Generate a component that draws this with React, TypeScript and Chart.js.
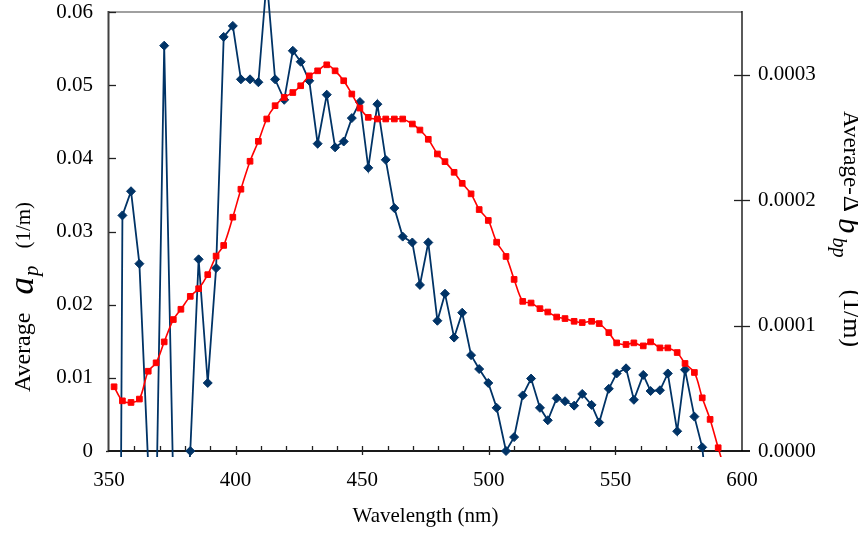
import React, { useEffect, useRef } from 'react';
import { Chart, registerables } from 'chart.js';

Chart.register(...registerables);

// Wavelength (nm) of each sample
const wavelengths = [
  352.0, 355.3, 358.7, 362.0, 365.5, 368.6, 371.8, 375.4, 378.4, 382.1,
  385.4, 389.0, 392.3, 395.3, 398.9, 402.1, 405.7, 409.0, 412.3, 415.6,
  419.2, 422.6, 425.7, 429.1, 432.4, 436.0, 439.3, 442.7, 445.9, 449.1,
  452.4, 456.0, 459.3, 462.7, 466.0, 469.8, 472.8, 476.1, 479.7, 482.7,
  486.3, 489.5, 493.0, 496.2, 499.8, 503.1, 506.8, 510.0, 513.4, 516.7,
  520.2, 523.3, 526.8, 530.1, 533.7, 536.9, 540.6, 543.6, 547.4, 550.5,
  554.2, 557.3, 561.0, 563.9, 567.6, 570.7, 574.4, 577.5, 581.2, 584.3,
  587.4, 590.6, 593.9,
];

// Average a_p (1/m), left axis
const apValues: (number | null)[] = [
  -0.18, 0.0322, 0.0355, 0.0256, -0.002, -0.009, 0.0554, -0.005, -0.02, 0.0,
  0.0262, 0.0093, 0.0250, 0.0566, 0.0581, 0.0508, 0.0508, 0.0504, 0.0645, 0.0508,
  0.0480, 0.0547, 0.0532, 0.0506, 0.0420, 0.0487, 0.0415, 0.0423, 0.0455, 0.0477,
  0.0387, 0.0474, 0.0398, 0.0332, 0.0293, 0.0285, 0.0227, 0.0285, 0.0178, 0.0215,
  0.0155, 0.0189, 0.0131, 0.0112, 0.0093, 0.0059, 0.0, 0.0019, 0.0076, 0.0099,
  0.0059, 0.0042, 0.0072, 0.0068, 0.0062, 0.0078, 0.0063, 0.0039, 0.0085, 0.0106,
  0.0113, 0.0070, 0.0104, 0.0082, 0.0083, 0.0106, 0.0027, 0.0111, 0.0047, 0.0005,
  -0.010, -0.02, null,
];

// Average -Δb_bp (1/m), right axis
const bbpValues = [
  5.12e-5, 4.0e-5, 3.87e-5, 4.14e-5, 6.36e-5, 7.03e-5, 8.7e-5, 1.048e-4, 1.13e-4, 1.233e-4,
  1.294e-4, 1.406e-4, 1.554e-4, 1.639e-4, 1.864e-4, 2.087e-4, 2.31e-4, 2.469e-4, 2.647e-4, 2.753e-4,
  2.819e-4, 2.858e-4, 2.912e-4, 2.991e-4, 3.031e-4, 3.079e-4, 3.031e-4, 2.952e-4, 2.846e-4, 2.734e-4,
  2.66e-4, 2.647e-4, 2.647e-4, 2.647e-4, 2.647e-4, 2.607e-4, 2.559e-4, 2.485e-4, 2.368e-4, 2.307e-4,
  2.222e-4, 2.134e-4, 2.05e-4, 1.925e-4, 1.838e-4, 1.665e-4, 1.551e-4, 1.368e-4, 1.193e-4, 1.18e-4,
  1.135e-4, 1.108e-4, 1.068e-4, 1.056e-4, 1.034e-4, 1.024e-4, 1.034e-4, 1.016e-4, 9.44e-5, 8.62e-5,
  8.49e-5, 8.62e-5, 8.38e-5, 8.7e-5, 8.22e-5, 8.22e-5, 7.85e-5, 6.98e-5, 6.26e-5, 4.24e-5,
  2.52e-5, 2.6e-6, -2.0e-5,
];

const xTickLabels = [350, 400, 450, 500, 550, 600];
const apTickValues = [0, 0.01, 0.02, 0.03, 0.04, 0.05, 0.06];
const apTickLabels = ['0', '0.01', '0.02', '0.03', '0.04', '0.05', '0.06'];
const bbpTickValues = [0, 0.0001, 0.0002, 0.0003];
const bbpTickLabels = ['0.0000', '0.0001', '0.0002', '0.0003'];

const SERIF = "'Liberation Serif', 'Times New Roman', serif";

function seg(ctx: CanvasRenderingContext2D, x1: number, y1: number, x2: number, y2: number) {
  ctx.beginPath();
  ctx.moveTo(x1, y1);
  ctx.lineTo(x2, y2);
  ctx.stroke();
}

type Piece = { text: string; font: string; dy?: number; gap?: number };

function drawRich(ctx: CanvasRenderingContext2D, x: number, y: number, angle: number, pieces: Piece[], centered: boolean) {
  ctx.save();
  ctx.translate(x, y);
  ctx.rotate(angle);
  ctx.textBaseline = 'alphabetic';
  ctx.textAlign = 'left';
  ctx.fillStyle = '#000';
  let total = 0;
  for (const p of pieces) {
    ctx.font = p.font;
    total += (p.gap || 0) + ctx.measureText(p.text).width;
  }
  let cur = centered ? -total / 2 : 0;
  for (const p of pieces) {
    cur += p.gap || 0;
    ctx.font = p.font;
    ctx.fillText(p.text, cur, p.dy || 0);
    cur += ctx.measureText(p.text).width;
  }
  ctx.restore();
}

const framePlugin = {
  id: 'frame',
  beforeDatasetsDraw(chart: any) {
    const { ctx, chartArea: a, scales } = chart;
    const xs = scales.x, yl = scales.yL, yr = scales.yR;
    ctx.save();
    ctx.lineCap = 'butt';
    ctx.strokeStyle = '#a0a0a0';
    ctx.lineWidth = 2;
    seg(ctx, a.left, a.top, a.right, a.top);
    ctx.strokeStyle = '#404040';
    ctx.lineWidth = 2;
    seg(ctx, a.left - 0.5, a.top - 1, a.left - 0.5, a.bottom + 1);
    ctx.strokeStyle = '#1a1a1a';
    ctx.lineWidth = 2;
    seg(ctx, a.left - 1, a.bottom, a.right + 8, a.bottom);
    ctx.strokeStyle = '#000';
    ctx.lineWidth = 1.3;
    seg(ctx, a.right, a.top - 1, a.right, a.bottom);

    ctx.strokeStyle = '#222';
    ctx.lineWidth = 1.3;
    xs.ticks.forEach((t: any) => {
      const v = t.value;
      if (v <= xs.min || v >= xs.max) return;
      const px = Math.round(xs.getPixelForValue(v)) + 0.5;
      const major = xTickLabels.includes(Math.round(v));
      seg(ctx, px, a.bottom - 5, px, a.bottom + (major ? 4 : 0));
    });
    yl.ticks.forEach((t: any) => {
      const py = Math.round(yl.getPixelForValue(t.value)) + 0.5;
      if (t.value <= 0) {
        seg(ctx, a.left - 3, py, a.left, py);
        return;
      }
      seg(ctx, a.left, py, a.left + 7, py);
    });
    yr.ticks.forEach((t: any) => {
      if (t.value <= 0) return;
      const py = Math.round(yr.getPixelForValue(t.value)) + 0.5;
      seg(ctx, a.right - 8, py, a.right + 8, py);
    });
    ctx.restore();
  },
  afterDraw(chart: any) {
    const { ctx, chartArea: a } = chart;
    ctx.save();
    ctx.fillStyle = '#000';
    ctx.font = `21px ${SERIF}`;
    ctx.textAlign = 'center';
    ctx.textBaseline = 'alphabetic';
    ctx.fillText('Wavelength (nm)', (a.left + a.right) / 2, 522);
    ctx.restore();

    drawRich(ctx, 30, 297, -Math.PI / 2, [
      { text: 'Average', font: `24px ${SERIF}` },
      { text: 'a', font: `italic 35px ${SERIF}`, gap: 18, dy: 3 },
      { text: 'p', font: `italic 21px ${SERIF}`, dy: 8, gap: 1 },
      { text: '(1/m)', font: `21px ${SERIF}`, gap: 17 },
    ], true);

    drawRich(ctx, 844, 111, Math.PI / 2, [
      { text: 'Average-', font: `23px ${SERIF}` },
      { text: 'Δ', font: `25px ${SERIF}`, gap: 1 },
      { text: 'b', font: `italic 31px ${SERIF}`, gap: 6, dy: 5 },
      { text: 'bp', font: `italic 20px ${SERIF}`, dy: 11, gap: 4 },
      { text: '(1/m)', font: `26px ${SERIF}`, gap: 32 },
    ], false);
  },
};

function noPad(s: any) {
  s.paddingTop = 0;
  s.paddingBottom = 0;
  s.paddingLeft = 0;
  s.paddingRight = 0;
}

export default function App() {
  const canvasRef = useRef<HTMLCanvasElement | null>(null);

  useEffect(() => {
    const canvas = canvasRef.current;
    if (!canvas) return;
    const apPoints = wavelengths.map((w, i) => ({ x: w, y: apValues[i] }));
    const bbpPoints = wavelengths.map((w, i) => ({ x: w, y: bbpValues[i] }));
    const tickFont = { family: SERIF, size: 21 };

    const chart = new Chart(canvas, {
      type: 'line',
      data: {
        datasets: [
          {
            label: 'bbp',
            data: bbpPoints as any,
            yAxisID: 'yR',
            borderColor: '#ff0000',
            backgroundColor: '#ff0000',
            borderWidth: 1.6,
            tension: 0.33,
            pointStyle: 'rect',
            pointRadius: 4,
            pointBorderWidth: 1,
            pointBorderColor: '#ff0000',
            pointBackgroundColor: '#ff0000',
            clip: { left: 8, top: 12, right: 8, bottom: 6 } as any,
          },
          {
            label: 'ap',
            data: apPoints as any,
            yAxisID: 'yL',
            borderColor: '#003366',
            backgroundColor: '#003366',
            borderWidth: 1.8,
            tension: 0,
            pointStyle: 'rectRot',
            pointRadius: 4.5,
            pointBorderWidth: 1,
            pointBorderColor: '#003366',
            pointBackgroundColor: '#003366',
            spanGaps: false,
            clip: { left: 8, top: 12, right: 8, bottom: 6 } as any,
          },
        ],
      },
      options: {
        animation: false,
        responsive: false,
        devicePixelRatio: 1,
        layout: { padding: { top: 12, left: 0, right: 0, bottom: 0 } },
        plugins: {
          legend: { display: false },
          tooltip: { enabled: false },
          title: { display: false },
        },
        scales: {
          x: {
            type: 'linear',
            position: 'bottom',
            min: 350,
            max: 600,
            grid: { display: false, drawTicks: false },
            border: { display: false },
            ticks: {
              stepSize: 10,
              autoSkip: false,
              maxRotation: 0,
              padding: 17,
              color: '#000',
              font: tickFont,
              callback: (v: any) => (xTickLabels.includes(Math.round(Number(v))) ? String(Math.round(Number(v))) : ''),
            },
            afterFit: (s: any) => { s.height = 86; noPad(s); },
          },
          yL: {
            type: 'linear',
            position: 'left',
            min: 0,
            max: 0.06,
            grid: { display: false, drawTicks: false },
            border: { display: false },
            afterBuildTicks: (s: any) => { s.ticks = apTickValues.map((v) => ({ value: v })); },
            ticks: {
              padding: 16,
              color: '#000',
              font: tickFont,
              callback: (_v: any, i: number) => apTickLabels[i],
            },
            afterFit: (s: any) => { s.width = 109; noPad(s); },
          },
          yR: {
            type: 'linear',
            position: 'right',
            min: 0,
            max: 0.00035,
            grid: { display: false, drawTicks: false },
            border: { display: false },
            afterBuildTicks: (s: any) => { s.ticks = bbpTickValues.map((v) => ({ value: v })); },
            ticks: {
              padding: 16,
              color: '#000',
              font: tickFont,
              callback: (_v: any, i: number) => bbpTickLabels[i],
            },
            afterFit: (s: any) => { s.width = 116; noPad(s); },
          },
        },
      },
      plugins: [framePlugin],
    });
    return () => chart.destroy();
  }, []);

  return (
    <div style={{ position: 'fixed', left: 0, top: 0, width: 858, height: 537, background: '#fff' }}>
      <canvas ref={canvasRef} width={858} height={537} style={{ display: 'block', width: 858, height: 537 }} />
    </div>
  );
}
